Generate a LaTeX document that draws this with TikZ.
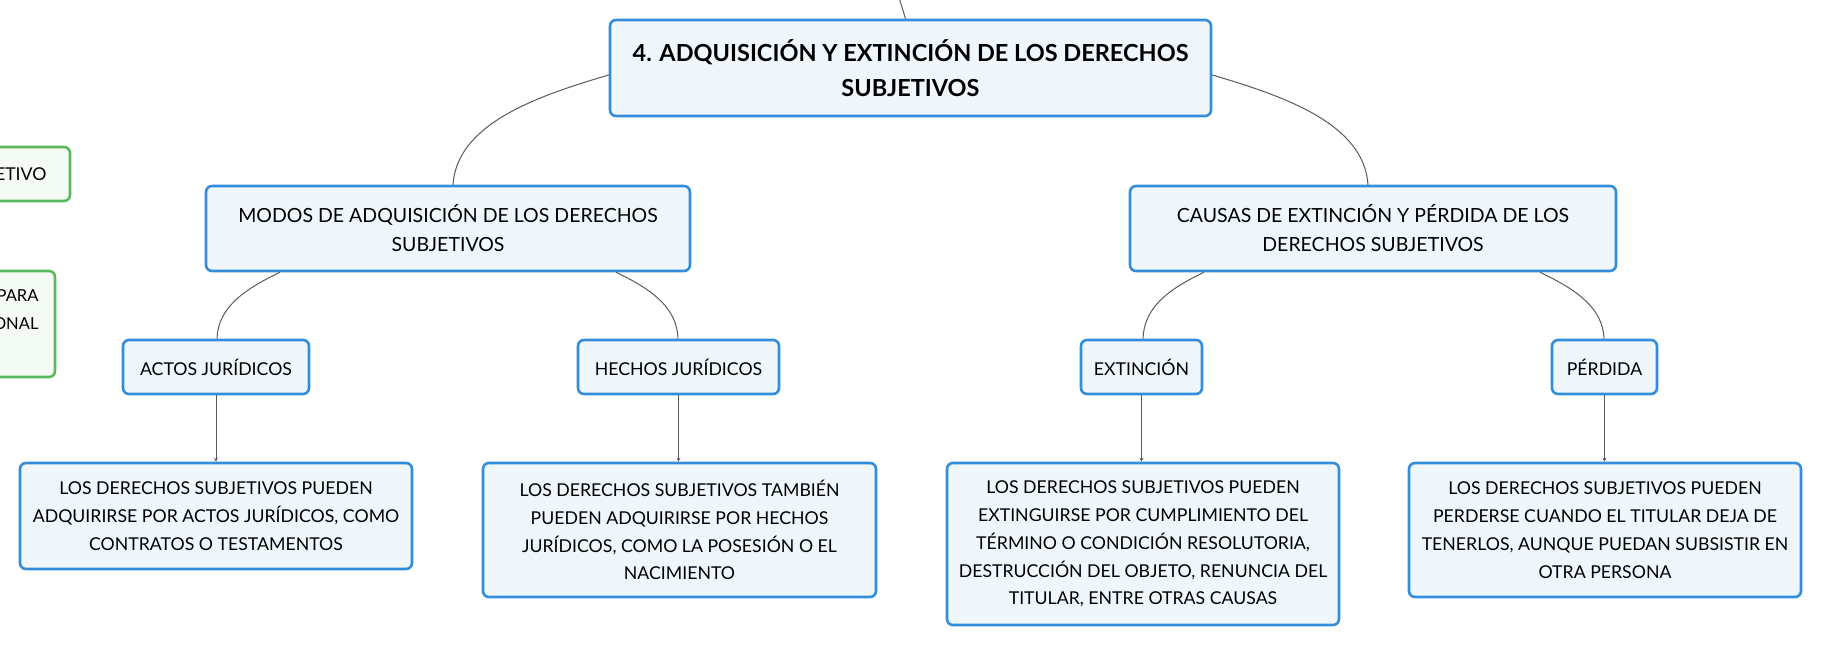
\documentclass[tikz,border=0pt]{standalone}
\usepackage{fontspec}
\setmainfont{Lato}
\usetikzlibrary{arrows.meta}
\definecolor{bblue}{RGB}{52,141,219}
\definecolor{fblue}{RGB}{239,247,253}
\definecolor{bgreen}{RGB}{92,184,92}
\definecolor{fgreen}{RGB}{244,250,244}
\definecolor{conn}{RGB}{90,90,90}
\tikzset{
  box/.style={draw=bblue, fill=fblue, line width=2.6pt, rounded corners=6pt, align=center, inner sep=0pt},
  gbox/.style={draw=bgreen, fill=fgreen, line width=2.6pt, rounded corners=6pt, inner sep=0pt},
  leaftext/.style={font=\fontsize{17.7}{27.8}\selectfont},
  midtext/.style={font=\fontsize{19.5}{29}\selectfont},
  link/.style={draw=conn, line width=1pt},
  arr/.style={draw=conn, line width=1pt, -{Stealth[length=4pt,width=4pt]}}
}
\begin{document}
\begin{tikzpicture}[x=1pt,y=-1pt]
\useasboundingbox (0,0) rectangle (1821,646);
\clip (0,0) rectangle (1821,646);
% main
\node[box, minimum width=601pt, minimum height=96pt, font=\bfseries\fontsize{23.5}{35}\selectfont] (main) at (910.5,68)
  {4. ADQUISICIÓN Y EXTINCIÓN DE LOS DERECHOS\\SUBJETIVOS};
\coordinate (up) at (898,-6);
\draw[link] ([xshift=-5pt]main.north) -- (up);
% green partial nodes
\node[gbox, minimum width=120pt, minimum height=54pt] (g1) at (10,174) {};
\node[leaftext, anchor=east] (g1t) at (50,174) {ETIVO};
\node[gbox, minimum width=120pt, minimum height=106pt] (g2) at (-5,324) {};
\node[font=\fontsize{16.5}{28}\selectfont, anchor=east, align=right] (g2t) at (42,310) {PARA\\ONAL};
% second level
\node[box, midtext, minimum width=484pt, minimum height=85pt] (modos) at (448,228.5)
  {MODOS DE ADQUISICIÓN DE LOS DERECHOS\\SUBJETIVOS};
\node[box, midtext, minimum width=486pt, minimum height=85pt] (causas) at (1373,228.5)
  {CAUSAS DE EXTINCIÓN Y PÉRDIDA DE LOS\\DERECHOS SUBJETIVOS};
% third level
\node[box, leaftext, minimum width=186pt, minimum height=54pt] (actos) at (216,367) {ACTOS JURÍDICOS};
\node[box, leaftext, minimum width=201pt, minimum height=54pt] (hechos) at (678.5,367) {HECHOS JURÍDICOS};
\node[box, leaftext, minimum width=121pt, minimum height=54pt] (ext) at (1141.5,367) {EXTINCIÓN};
\node[box, leaftext, minimum width=105pt, minimum height=54pt] (perd) at (1604.5,367) {PÉRDIDA};
% leaves
\node[box, leaftext, minimum width=392pt, minimum height=106pt] (l1) at (216,516)
  {LOS DERECHOS SUBJETIVOS PUEDEN\\ADQUIRIRSE POR ACTOS JURÍDICOS, COMO\\CONTRATOS O TESTAMENTOS};
\node[box, leaftext, minimum width=393pt, minimum height=134pt] (l2) at (679.5,530)
  {LOS DERECHOS SUBJETIVOS TAMBIÉN\\PUEDEN ADQUIRIRSE POR HECHOS\\JURÍDICOS, COMO LA POSESIÓN O EL\\NACIMIENTO};
\node[box, leaftext, minimum width=392pt, minimum height=162pt] (l3) at (1143,544)
  {LOS DERECHOS SUBJETIVOS PUEDEN\\EXTINGUIRSE POR CUMPLIMIENTO DEL\\TÉRMINO O CONDICIÓN RESOLUTORIA,\\DESTRUCCIÓN DEL OBJETO, RENUNCIA DEL\\TITULAR, ENTRE OTRAS CAUSAS};
\node[box, leaftext, minimum width=392pt, minimum height=134pt] (l4) at (1605,530)
  {LOS DERECHOS SUBJETIVOS PUEDEN\\PERDERSE CUANDO EL TITULAR DEJA DE\\TENERLOS, AUNQUE PUEDAN SUBSISTIR EN\\OTRA PERSONA};
% curved connectors
\draw[link] ([yshift=-7pt]main.west) .. controls +(-75,22) and +(4,-60) .. ([xshift=5pt]modos.north);
\draw[link] ([yshift=-7pt]main.east) .. controls +(75,22) and +(-4,-60) .. ([xshift=-5pt]causas.north);
\draw[link] ([xshift=-168pt]modos.south) .. controls +(-38,18) and +(1,-30) .. ([xshift=1pt]actos.north);
\draw[link] ([xshift=168pt]modos.south) .. controls +(38,18) and +(-1,-30) .. ([xshift=-0.5pt]hechos.north);
\draw[link] ([xshift=-169pt]causas.south) .. controls +(-38,18) and +(1,-30) .. ([xshift=1.5pt]ext.north);
\draw[link] ([xshift=167pt]causas.south) .. controls +(38,18) and +(-1,-30) .. ([xshift=-0.5pt]perd.north);
% straight connectors
\draw[arr] (actos.south) -- (actos.south |- l1.north);
\draw[arr] (hechos.south) -- (hechos.south |- l2.north);
\draw[arr] (ext.south) -- (ext.south |- l3.north);
\draw[arr] (perd.south) -- (perd.south |- l4.north);
\end{tikzpicture}
\end{document}
